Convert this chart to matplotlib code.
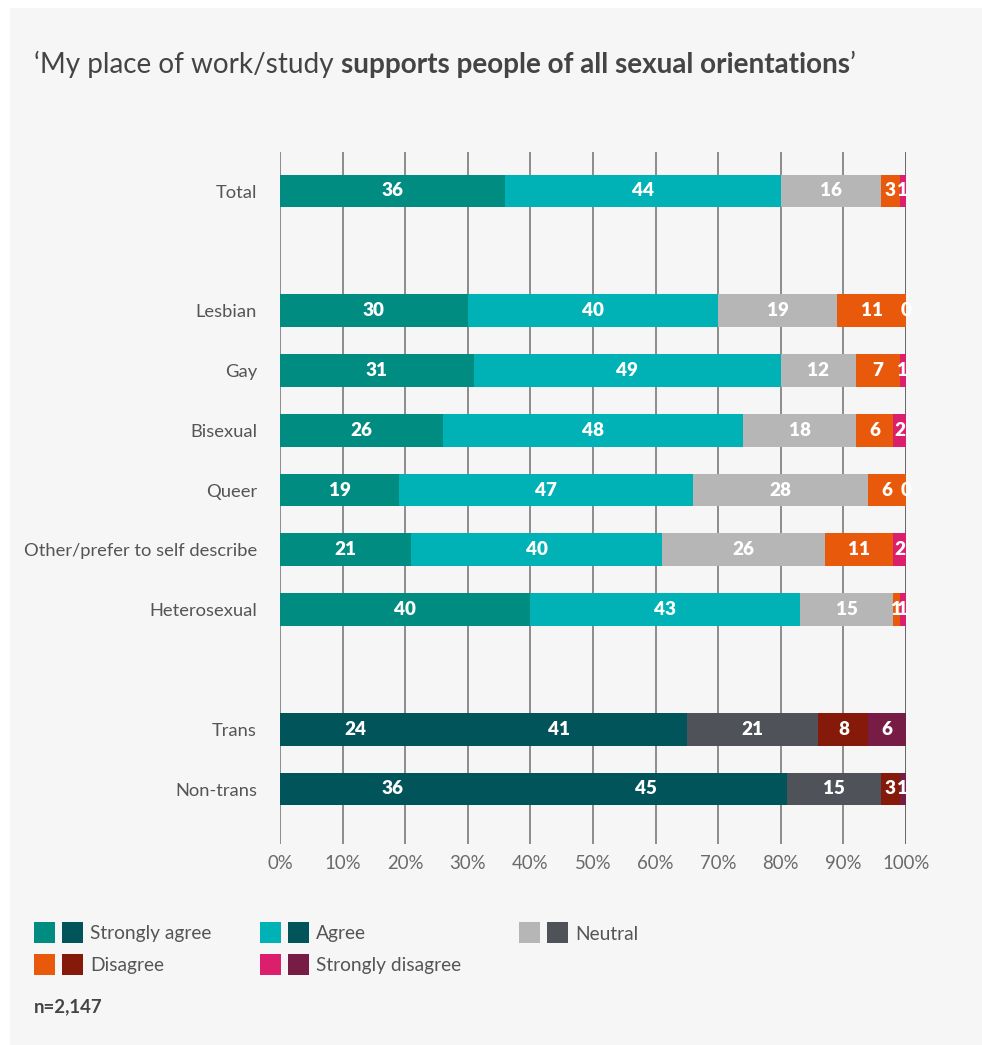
import matplotlib.pyplot as plt
from matplotlib.patches import Rectangle

plt.rcParams["font.family"] = ["Lato", "DejaVu Sans"]

# survey responses (%), one row per group
categories = ["Strongly agree", "Agree", "Neutral", "Disagree", "Strongly disagree"]
row_groups = [
    ["Total"],
    ["Lesbian", "Gay", "Bisexual", "Queer", "Other/prefer to self describe", "Heterosexual"],
    ["Trans", "Non-trans"],
]
strongly_agree = [36, 30, 31, 26, 19, 21, 40, 24, 36]
agree = [44, 40, 49, 48, 47, 40, 43, 41, 45]
neutral = [16, 19, 12, 18, 28, 26, 15, 21, 15]
disagree = [3, 11, 7, 6, 6, 11, 1, 8, 3]
strongly_disagree = [1, 0, 1, 2, 0, 2, 1, 6, 1]
ticks = [0, 10, 20, 30, 40, 50, 60, 70, 80, 90, 100]
sample_note = "n=2,147"

light = ["#008c80", "#00b2b5", "#b5b6b5", "#e8590c", "#db1f6c"]
dark = ["#02545b", "#02545b", "#505259", "#861a0a", "#771d45"]
group_palettes = [light, light, dark]

series = [strongly_agree, agree, neutral, disagree, strongly_disagree]

# row positions: one step within a group, an empty slot between groups
labels, positions, palettes = [], [], []
pos = 0
for gi, group in enumerate(row_groups):
    for name in group:
        labels.append(name)
        positions.append(pos)
        palettes.append(group_palettes[gi])
        pos += 1
    pos += 1

W, H = 982, 1045
unit = 59.8  # pixels per row step
fig = plt.figure(figsize=(W / 100, H / 100), dpi=100)
fig.patch.set_facecolor("white")
fig.patches.append(Rectangle((10 / W, 0), 1, 1 - 8 / H, transform=fig.transFigure,
                             facecolor="#f6f6f6", edgecolor="none", zorder=-10))

ax = fig.add_axes([280 / W, 1 - 844 / H, 626 / W, 692 / H])
ax.set_facecolor("none")
ax.set_xlim(0, 100)
ax.set_ylim(10 + 55 / unit, -39 / unit)

for t in ticks:
    ax.axvline(t, color="#666666" if t == 100 else "#8c8c8c", lw=1.4, zorder=0)

bar_h = 32.7 / unit
for i, y in enumerate(positions):
    left = 0
    for k, vals in enumerate(series):
        v = vals[i]
        ax.barh(y, v, left=left, height=bar_h, color=palettes[i][k], zorder=2)
        ax.text(left + v / 2, y, str(v), ha="center", va="center", color="white",
                fontsize=13.6, fontweight="heavy", zorder=3)
        left += v

ax.set_yticks(positions)
ax.set_yticklabels(labels, fontsize=13.2, color="#555555")
ax.set_xticks(ticks)
ax.set_xticklabels([f"{t}%" for t in ticks], fontsize=13.4, color="#6a6a6a")
ax.tick_params(axis="y", length=0, pad=16.5)
ax.tick_params(axis="x", length=0, pad=8)
for s in ax.spines.values():
    s.set_visible(False)

# title with a bold part
fig.canvas.draw()
r = fig.canvas.get_renderer()
ty = 1 - 72.5 / H
parts = [("\u2018My place of work/study ", "normal"),
         ("supports people of all sexual orientations", "bold"),
         ("\u2019", "normal")]
x = 34 / W
for txt, wt in parts:
    t = fig.text(x, ty, txt, fontsize=20.1, fontweight=wt, color="#444444", va="baseline")
    bb = t.get_window_extent(r)
    x += bb.width / W

# legend
sw = 21
legend_cols = [(34, 932.5, 0), (260, 932.5, 1), (519, 932.5, 2), (34, 964, 3), (260, 964, 4)]
for x0, yc, k in legend_cols:
    for j, pal in enumerate([light, dark]):
        fig.patches.append(Rectangle(((x0 + j * 28) / W, 1 - (yc + sw / 2) / H), sw / W, sw / H,
                                     transform=fig.transFigure, facecolor=pal[k], edgecolor="none"))
    fig.text((x0 + 56) / W, 1 - (yc + 1.5) / H, categories[k], fontsize=13.8, color="#555555",
             va="center")

fig.text(34 / W, 1 - 1006.7 / H, sample_note, fontsize=13.4, fontweight="bold", color="#444444",
         va="center")

fig.savefig("out.png", dpi=100, facecolor=fig.get_facecolor())
